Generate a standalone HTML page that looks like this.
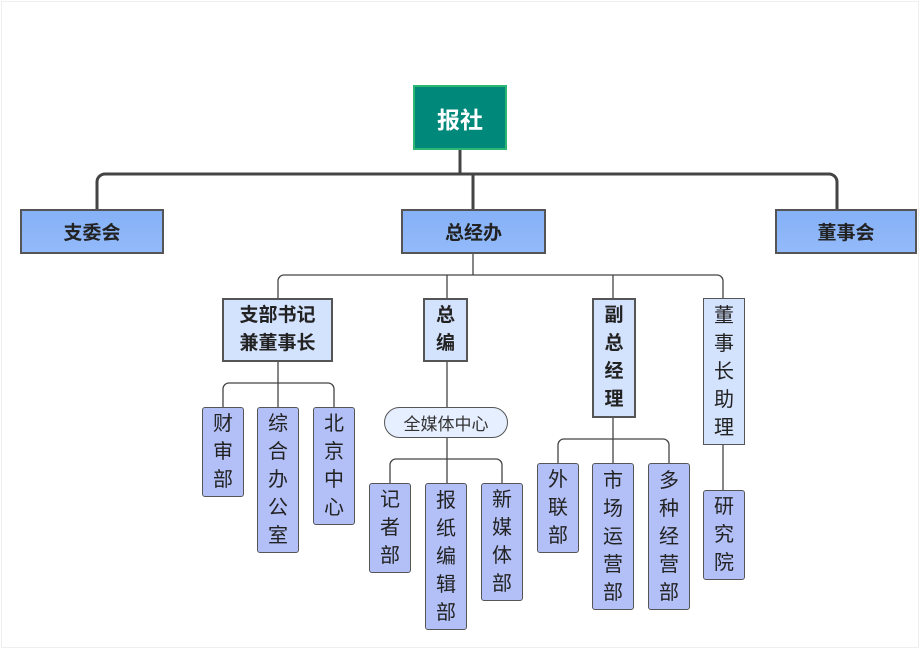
<!DOCTYPE html>
<html><head><meta charset="utf-8"><style>
body{margin:0;width:921px;height:650px;background:#fff;position:relative;overflow:hidden;font-family:"Liberation Sans","Noto Sans CJK SC",sans-serif;}
.frame{position:absolute;left:1px;top:1px;width:916px;height:645px;border:1px solid #eee;}
.b{position:absolute;box-sizing:border-box;display:flex;align-items:center;justify-content:center;text-align:center;color:#222;}
.root{left:413px;top:85px;width:94px;height:65px;background:#00897b;border:2px solid #2bb673;color:#fff;font-weight:bold;font-size:23px;}
.l1{top:209px;height:45px;background:linear-gradient(#86b1f7,#93bafa);border:2px solid #555;font-weight:bold;font-size:19px;}
.l2{top:298px;background:#d3e2fd;border:2px solid #555;font-weight:bold;font-size:19px;line-height:28px;}
.lf{background:#b3c0f8;border:1.5px solid #555;border-radius:3px;font-size:20px;line-height:28px;}
.v{writing-mode:horizontal-tb;}
</style></head><body>
<div class="frame"></div>
<svg width="921" height="650" style="position:absolute;left:0;top:0">
<g fill="none" stroke="#444" stroke-width="3">
<path d="M460 150V174"/>
<path d="M97 209V182a8 8 0 0 1 8-8H829a8 8 0 0 1 8 8V209"/>
<path d="M473 174V209"/>
</g>
<g fill="none" stroke="#444" stroke-width="1.3">
<path d="M473 254V275"/>
<path d="M278 298V281a6 6 0 0 1 6-6H717a6 6 0 0 1 6 6V298"/>
<path d="M447 275V298"/>
<path d="M613 275V298"/>
<path d="M278 362V407"/>
<path d="M223 407V389a6 6 0 0 1 6-6H328a6 6 0 0 1 6 6V407"/>
<path d="M447 362V408"/>
<path d="M447 438V483"/>
<path d="M390 483V465a6 6 0 0 1 6-6H496a6 6 0 0 1 6 6V483"/>
<path d="M613 418V463"/>
<path d="M558 463V445a6 6 0 0 1 6-6H663a6 6 0 0 1 6 6V463"/>
<path d="M723 445V490"/>
</g>
</svg>
<div class="b root">报社</div>
<div class="b l1" style="left:20px;width:144px">支委会</div>
<div class="b l1" style="left:401px;width:145px">总经办</div>
<div class="b l1" style="left:775px;width:142px">董事会</div>
<div class="b l2" style="left:222px;width:111px;height:64px">支部书记<br>兼董事长</div>
<div class="b l2" style="left:423px;width:45px;height:64px">总<br>编</div>
<div class="b l2" style="left:592px;width:44px;height:120px">副<br>总<br>经<br>理</div>
<div class="b l2" style="left:703px;width:42px;height:147px;font-weight:normal;border-width:1.5px;font-size:20px">董<br>事<br>长<br>助<br>理</div>
<div class="b lf" style="left:202px;top:407px;width:42px;height:90px">财<br>审<br>部</div>
<div class="b lf" style="left:257px;top:407px;width:42px;height:146px">综<br>合<br>办<br>公<br>室</div>
<div class="b lf" style="left:313px;top:407px;width:42px;height:118px">北<br>京<br>中<br>心</div>
<div class="b" style="left:384px;top:407px;width:124px;height:31px;border:1.5px solid #555;border-radius:16px;background:#e6efff;font-size:17px;color:#333">全媒体中心</div>
<div class="b lf" style="left:369px;top:483px;width:42px;height:90px">记<br>者<br>部</div>
<div class="b lf" style="left:425px;top:483px;width:42px;height:147px">报<br>纸<br>编<br>辑<br>部</div>
<div class="b lf" style="left:481px;top:483px;width:42px;height:118px">新<br>媒<br>体<br>部</div>
<div class="b lf" style="left:537px;top:463px;width:42px;height:90px">外<br>联<br>部</div>
<div class="b lf" style="left:592px;top:463px;width:42px;height:147px">市<br>场<br>运<br>营<br>部</div>
<div class="b lf" style="left:648px;top:463px;width:42px;height:147px">多<br>种<br>经<br>营<br>部</div>
<div class="b lf" style="left:703px;top:490px;width:42px;height:90px">研<br>究<br>院</div>
</body></html>
